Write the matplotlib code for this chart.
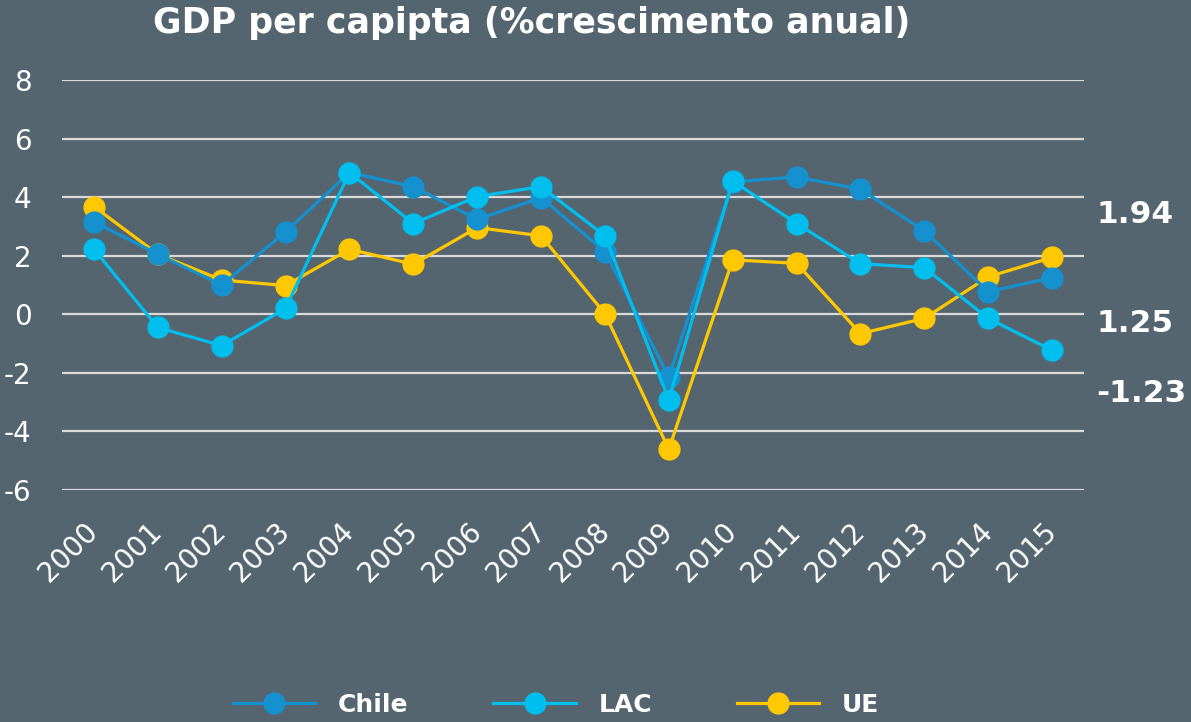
import matplotlib.pyplot as plt
import numpy as np

years = [str(y) for y in range(2000, 2016)]
chile = [3.16, 2.05, 1.0, 2.81, 4.84, 4.36, 3.24, 3.98, 2.14, -2.14, 4.52, 4.69, 4.27, 2.85, 0.77, 1.25]
lac = [2.22, -0.45, -1.07, 0.2, 4.84, 3.1, 4.02, 4.36, 2.68, -2.92, 4.55, 3.1, 1.73, 1.59, -0.14, -1.23]
ue = [3.68, 2.05, 1.17, 0.98, 2.22, 1.71, 2.96, 2.68, 0.02, -4.61, 1.86, 1.74, -0.66, -0.14, 1.28, 1.94]
yticks = [-6, -4, -2, 0, 2, 4, 6, 8]
end_labels = ['1.94', '1.25', '-1.23']

bg = '#546570'
c_chile = '#1591CF'
c_lac = '#00BFEE'
c_ue = '#FFC800'

fig = plt.figure(figsize=(11.91, 7.22), dpi=100, facecolor=bg)
ax = fig.add_axes([62 / 1191, 1 - 490 / 722, (1084 - 62) / 1191, (490 - 80) / 722])
ax.set_facecolor(bg)

x = np.arange(len(years))
ms = 15
lw = 2.3
ax.plot(x, ue, color=c_ue, lw=lw, marker='o', ms=ms, label='UE', zorder=3)
ax.plot(x, chile, color=c_chile, lw=lw, marker='o', ms=ms, label='Chile', zorder=4)
ax.plot(x, lac, color=c_lac, lw=lw, marker='o', ms=ms, label='LAC', zorder=5)

ax.set_xlim(-0.5, len(years) - 0.5)
ax.set_ylim(-6, 8)
ax.set_yticks(yticks)
ax.set_yticklabels([str(t) for t in yticks])
ax.set_xticks(x)
ax.set_xticklabels(years, rotation=45, ha='right', va='center', rotation_mode='anchor')
ax.grid(axis='y', color='#D9D9D9', lw=1.6, zorder=1)
ax.set_axisbelow(True)
for s in ax.spines.values():
    s.set_visible(False)
ax.tick_params(axis='both', length=0, colors='white')
ax.tick_params(axis='y', pad=22, labelsize=20)
ax.tick_params(axis='x', pad=27, labelsize=20)
for lab in ax.get_xticklabels() + ax.get_yticklabels():
    lab.set_fontfamily('DejaVu Sans')

fig.text(532 / 1191, 1 - 23 / 722, 'GDP per capipta (%crescimento anual)', ha='center', va='center',
         color='white', fontsize=25, fontweight='bold', family='DejaVu Sans')

for lab, yp in zip(end_labels, [215, 323, 393]):
    fig.text(1096 / 1191, 1 - yp / 722, lab, ha='left', va='center', color='white',
             fontsize=22.5, fontweight='bold', family='DejaVu Sans')

handles, labels = ax.get_legend_handles_labels()
order = [1, 2, 0]
leg = fig.legend([handles[i] for i in order], [labels[i] for i in order], loc='center',
                 bbox_to_anchor=(556 / 1191, 1 - 705 / 722), ncol=3, frameon=False,
                 handlelength=3.3, handletextpad=0.9, columnspacing=3.4,
                 prop={'family': 'DejaVu Sans', 'weight': 'bold', 'size': 18})
for t in leg.get_texts():
    t.set_color('white')

fig.savefig('out.png', dpi=100, facecolor=bg)
